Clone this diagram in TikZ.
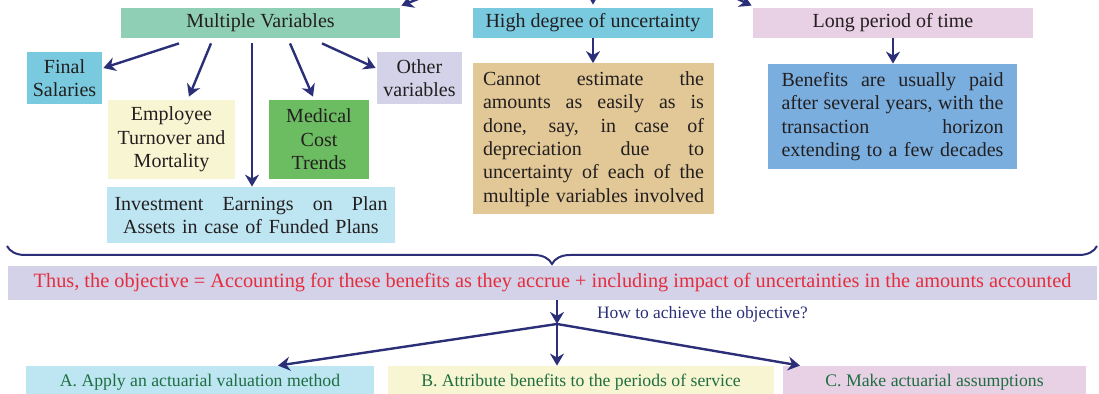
\documentclass[tikz,border=0pt]{standalone}
\usepackage{fontspec}
\setmainfont{Liberation Serif}
\usetikzlibrary{arrows.meta,positioning,calc,decorations.pathreplacing}
\definecolor{cink}{HTML}{231F20}
\definecolor{cnavy}{HTML}{2B2F78}
\definecolor{cteal}{HTML}{8FCFB6}
\definecolor{ccyan}{HTML}{79CADF}
\definecolor{cpink}{HTML}{E8D0E5}
\definecolor{clav}{HTML}{D3D2E8}
\definecolor{cyel}{HTML}{F8F5D2}
\definecolor{cgreen}{HTML}{6CBD62}
\definecolor{clblue}{HTML}{BEE5F2}
\definecolor{ctan}{HTML}{E2C897}
\definecolor{cblue}{HTML}{7AAEDE}
\definecolor{cred}{HTML}{E52D3D}
\definecolor{cdkgreen}{HTML}{1F6E42}
\newlength{\jw}
\newcommand{\jline}[1]{\leavevmode\hbox to \jw{\spaceskip=\fontdimen2\font plus 1fil minus 0.5pt\relax #1}}
\tikzset{
  box/.style={fill=#1,text=cink,inner sep=0pt,align=center,font=\fontsize{10}{11.7}\selectfont},
  topbox/.style={box=#1,minimum height=15pt},
  parbox/.style n args={2}{box=#1,text width=#2,execute at begin node={\setlength{\jw}{#2}}},
  bar/.style={fill=clav,text=cred,inner sep=0pt,minimum height=17pt,font=\fontsize{10.15}{12}\selectfont},
  step box/.style={fill=#1,text=cdkgreen,inner sep=0pt,minimum height=16pt,font=\fontsize{8.85}{10}\selectfont},
  arr/.style={-{Stealth[length=6pt,width=7pt]},line width=1.2pt,draw=cnavy},
  brc/.style={decorate,decoration={brace,mirror,amplitude=9pt},line width=1pt,draw=cnavy},
  lbl/.style={text=cnavy,inner sep=0pt,font=\fontsize{8.7}{10}\selectfont},
}

\begin{document}
\begin{tikzpicture}[x=0.5pt,y=-0.5pt]
  \useasboundingbox (0,0) rectangle (1099,394);
  \clip (0,0) rectangle (1099,394);

  % three headings
  \node[topbox=cteal,minimum width=139.5pt] (mv) at (260.5,23) {Multiple Variables};
  \node[topbox=ccyan,minimum width=120pt] (hd) at (593,23) {High degree of uncertainty};
  \node[topbox=cpink,minimum width=140pt] (lp) at (893,23) {Long period of time};
  \coordinate (src) at (593,-70);
  \draw[arr] (src) -- ([shift={(1,-2)}]mv.north east);
  \draw[arr] (src) -- ([shift={(0,-3)}]hd.north);
  \draw[arr] (src) -- ([shift={(-1,-2)}]lp.north west);

  % the variables
  \node[box=ccyan,minimum width=37.5pt,minimum height=26pt] (fs) at (64.5,78) {Final\\Salaries};
  \node[box=clav,minimum width=42.5pt,minimum height=26pt] (ov) at (419.5,78) {Other\\variables};
  \node[box=cyel,minimum width=63.5pt,minimum height=39.5pt] (em) at (171.5,139.5) {Employee\\Turnover and\\Mortality};
  \node[box=cgreen,minimum width=50pt,minimum height=39.5pt] (mc) at (319,139.5) {Medical\\Cost\\Trends};
  \node[parbox={clblue}{136.5pt},minimum width=144pt,minimum height=28pt] (ie) at (251,215)
    {\jline{Investment Earnings on Plan}\\Assets in case of Funded Plans};
  \draw[arr] ([shift={(-81.5,5)}]mv.south) -- ([shift={(1,-10)}]fs.east);
  \draw[arr] ([shift={(-49.5,5)}]mv.south) -- ([shift={(17.5,-3)}]em.north);
  \draw[arr] ([shift={(-8.5,5)}]mv.south) coordinate (mvi) -- (mvi |- ie.north);
  \draw[arr] ([shift={(29.5,5)}]mv.south) -- ([shift={(-6,-3)}]mc.north);
  \draw[arr] ([shift={(61.5,5)}]mv.south) -- ([shift={(-1,-10)}]ov.west);

  % explanations
  \node[parbox={ctan}{110.5pt},minimum width=120.5pt,minimum height=75.5pt] (ce) at (593.5,139)
    {\jline{Cannot estimate the}\\\jline{amounts as easily as is}\\\jline{done, say, in case of}\\
     \jline{depreciation due to}\\\jline{uncertainty of each of the}\\\jline{multiple variables involved}};
  \node[parbox={cblue}{111pt},minimum width=124.5pt,minimum height=52.5pt] (bp) at (892.5,116.5)
    {\jline{Benefits are usually paid}\\\jline{after several years, with the}\\\jline{transaction horizon}\\
     \jline{extending to a few decades}};
  \draw[arr] (hd.south) -- (hd.south |- ce.north);
  \draw[arr] (lp.south) -- (lp.south |- bp.north);

  % objective
  \draw[brc] (7,246) -- (1097,246);
  \node[bar,minimum width=544.5pt] (obj) at (552.5,283)
    {Thus, the objective = Accounting for these benefits as they accrue + including impact of uncertainties in the amounts accounted};
  \node[lbl] (how) at (702.5,314) {How to achieve the objective?};
  \coordinate (jn) at (557,324);
  \draw[arr] (obj.south -| jn) -- (jn);

  % three steps
  \node[step box=clblue,minimum width=174pt] (sa) at (200,382) {A. Apply an actuarial valuation method};
  \node[step box=cyel,minimum width=193pt] (sb) at (581,382) {B. Attribute benefits to the periods of service};
  \node[step box=cpink,minimum width=151.5pt] (sc) at (934.5,382) {C. Make actuarial assumptions};
  \draw[arr] (jn) -- ([shift={(78,0)}]sa.north);
  \draw[arr] (jn) -- (jn |- sb.north);
  \draw[arr] (jn) -- ([shift={(-134.5,0)}]sc.north);
\end{tikzpicture}
\end{document}
